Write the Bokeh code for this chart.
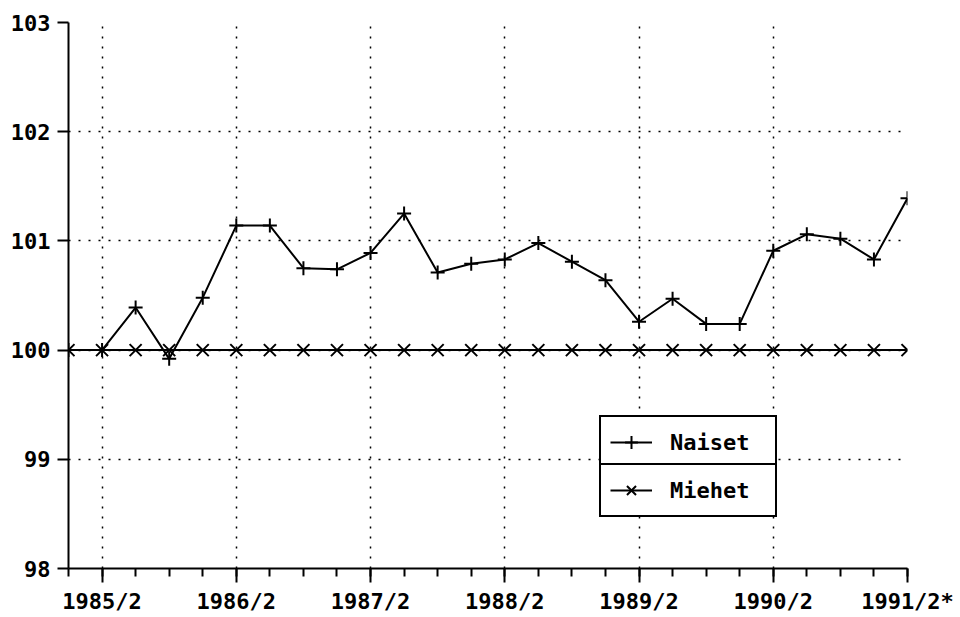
from bokeh.plotting import figure
from bokeh.models import FixedTicker, Legend, LegendItem, Range1d, ColumnDataSource
from bokeh.embed import file_html
from bokeh.resources import INLINE

periods = ["1985/1", "1985/2", "1985/3", "1985/4",
           "1986/1", "1986/2", "1986/3", "1986/4",
           "1987/1", "1987/2", "1987/3", "1987/4",
           "1988/1", "1988/2", "1988/3", "1988/4",
           "1989/1", "1989/2", "1989/3", "1989/4",
           "1990/1", "1990/2", "1990/3", "1990/4",
           "1991/1", "1991/2"]
naiset = [100.0, 100.0, 100.39, 99.92, 100.48, 101.14, 101.14, 100.75, 100.74,
          100.89, 101.25, 100.71, 100.79, 100.83, 100.98, 100.81, 100.64,
          100.26, 100.47, 100.24, 100.24, 100.91, 101.06, 101.02, 100.83, 101.39]
miehet = [100.0, 100.0, 100.0, 100.0, 100.0, 100.0, 100.0, 100.0, 100.0,
          100.0, 100.0, 100.0, 100.0, 100.0, 100.0, 100.0, 100.0,
          100.0, 100.0, 100.0, 100.0, 100.0, 100.0, 100.0, 100.0, 100.0]
x_tick_labels = ["1985/2", "1986/2", "1987/2", "1988/2", "1989/2", "1990/2", "1991/2*"]
y_ticks = [98, 99, 100, 101, 102, 103]
series_names = ["Naiset", "Miehet"]

FONT = "DejaVu Sans Mono"
FS = "22px"

idx = list(range(len(periods)))
src = ColumnDataSource(dict(x=idx, naiset=naiset, miehet=miehet))
major_idx = [periods.index(l.rstrip("*")) for l in x_tick_labels]

p = figure(width=960, height=617, x_range=Range1d(idx[0], idx[-1]),
           y_range=Range1d(y_ticks[0], y_ticks[-1]),
           output_backend="svg", toolbar_location=None,
           min_border_left=68, min_border_right=53, min_border_top=22, min_border_bottom=49)
p.outline_line_color = None
p.background_fill_color = "white"
p.border_fill_color = "white"

p.xaxis.ticker = FixedTicker(ticks=major_idx, minor_ticks=idx)
p.xaxis.major_label_overrides = {i: l for i, l in zip(major_idx, x_tick_labels)}
p.yaxis.ticker = FixedTicker(ticks=y_ticks)
p.yaxis.major_label_overrides = {t: str(t) for t in y_ticks}

for ax in (p.xaxis, p.yaxis):
    ax.axis_line_color = "black"
    ax.axis_line_width = 2
    ax.major_tick_line_color = "black"
    ax.major_tick_line_width = 2
    ax.minor_tick_line_color = "black"
    ax.minor_tick_line_width = 2
    ax.major_tick_in = 0
    ax.minor_tick_in = 0
    ax.major_label_text_font = FONT
    ax.major_label_text_font_style = "bold"
    ax.major_label_text_font_size = FS
    ax.major_label_text_color = "black"
p.xaxis.major_tick_out = 14
p.xaxis.minor_tick_out = 8
p.xaxis.major_label_standoff = 6
p.yaxis.major_tick_out = 11
p.yaxis.minor_tick_out = 0
p.yaxis.major_label_standoff = 7

for g in (p.xgrid, p.ygrid):
    g.grid_line_color = "black"
    g.grid_line_dash = "2 8"
    g.grid_line_width = 1.5

l1 = p.line("x", "naiset", source=src, line_color="black", line_width=2)
m1 = p.scatter("x", "naiset", source=src, marker="cross", size=14,
               line_color="black", line_width=2)
l2 = p.line("x", "miehet", source=src, line_color="black", line_width=2)
m2 = p.scatter("x", "miehet", source=src, marker="x", size=17,
               line_color="black", line_width=2)

def make_legend(name, rends, loc):
    lg = Legend(items=[LegendItem(label=name, renderers=rends)], location=loc,
                orientation="vertical", padding=9, spacing=0, margin=0,
                glyph_width=42, glyph_height=32, label_height=32, label_width=96,
                label_standoff=18, border_line_color="black", border_line_width=2,
                border_line_alpha=1.0,
                background_fill_color="white", background_fill_alpha=1.0,
                label_text_font=FONT, label_text_font_style="bold",
                label_text_font_size=FS, label_text_color="black")
    p.add_layout(lg, "center")
    return lg

make_legend(series_names[0], [l1, m1], (531, 99))
make_legend(series_names[1], [l2, m2], (531, 51))

open("out.html", "w").write(file_html(p, INLINE))
